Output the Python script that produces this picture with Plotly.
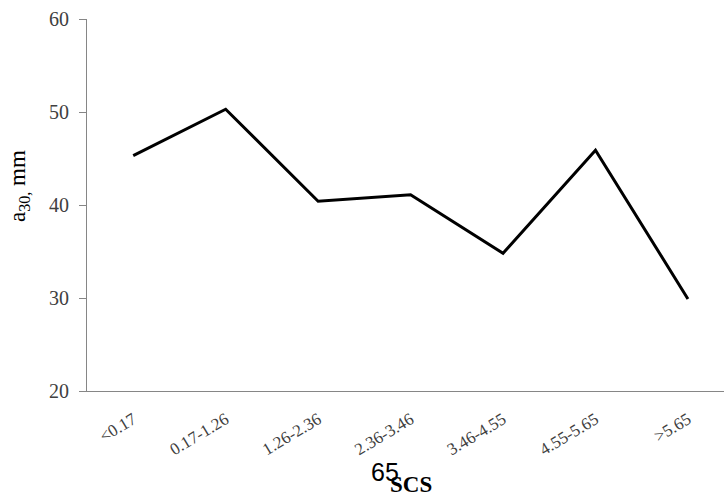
import plotly.graph_objects as go

# SCS classes and mean a30 values (mm)
scs_classes = ["<0.17", "0.17-1.26", "1.26-2.36", "2.36-3.46", "3.46-4.55", "4.55-5.65", ">5.65"]
a30_mm = [45.3, 50.3, 40.4, 41.1, 34.8, 45.9, 29.9]
y_ticks = [20, 30, 40, 50, 60]

SERIF = "Liberation Serif"
AXIS_GREY = "#868686"
TEXT_GREY = "#404040"

fig = go.Figure()
fig.add_trace(go.Scatter(
    x=list(range(len(scs_classes))),
    y=a30_mm,
    mode="lines",
    line=dict(color="black", width=3),
    showlegend=False,
    hoverinfo="skip",
))

fig.update_layout(
    width=724,
    height=497,
    margin=dict(l=87, r=0, t=19, b=106),
    paper_bgcolor="white",
    plot_bgcolor="white",
    font=dict(family=SERIF, color=TEXT_GREY),
)

fig.update_xaxes(
    tickmode="array",
    tickvals=list(range(len(scs_classes))),
    ticktext=scs_classes,
    range=[-0.5, 6.39],
    tickangle=-31,
    tickfont=dict(family=SERIF, size=17, color=TEXT_GREY),
    showline=True,
    linecolor=AXIS_GREY,
    linewidth=1,
    ticks="",
    showgrid=False,
    zeroline=False,
    ticklabelstandoff=11,
)

fig.update_yaxes(
    range=[20, 60],
    tickvals=y_ticks,
    tickfont=dict(family=SERIF, size=20, color=TEXT_GREY),
    showline=True,
    linecolor=AXIS_GREY,
    linewidth=1,
    ticks="outside",
    ticklen=7,
    tickcolor=AXIS_GREY,
    showgrid=False,
    zeroline=False,
    ticklabelstandoff=6,
)

# y-axis title
fig.add_annotation(
    text="a<sub>30,</sub> mm",
    xref="paper", yref="paper",
    x=-0.1068, y=0.551,
    xanchor="center", yanchor="middle",
    textangle=-90,
    showarrow=False,
    font=dict(family=SERIF, size=23, color="black"),
)

# x-axis title
fig.add_annotation(
    text="<b>SCS</b>",
    xref="paper", yref="paper",
    x=0.5086, y=-0.25,
    xanchor="center", yanchor="middle",
    showarrow=False,
    font=dict(family=SERIF, size=23, color="black"),
)

# page number
fig.add_annotation(
    text="65",
    xref="paper", yref="paper",
    x=0.4686, y=-0.2164,
    xanchor="center", yanchor="middle",
    showarrow=False,
    font=dict(family="Liberation Sans", size=25, color="black"),
)

fig.write_html("out.html")
